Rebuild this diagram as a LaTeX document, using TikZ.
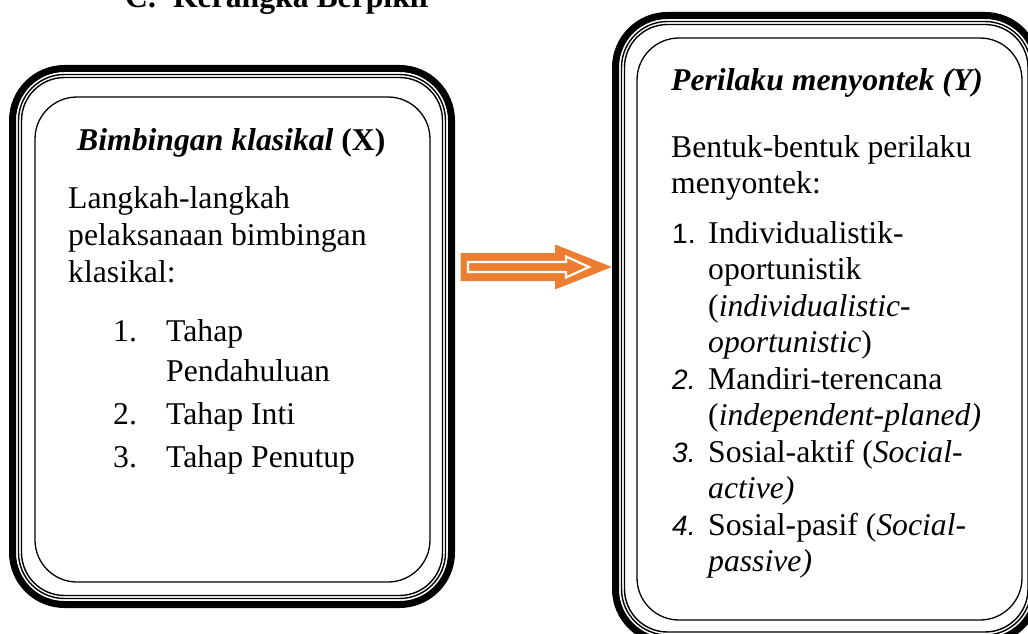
\documentclass[tikz,border=0pt]{standalone}
\usepackage{fontspec}
\setmainfont{Liberation Serif}
\newfontfamily\numfont{Liberation Sans}
\definecolor{arrorange}{HTML}{ED7D31}
\newcommand\triframe[4]{%
  \draw[thickframe] (#1,#2) rectangle (#3,#4);
  \draw[thinframe, rounded corners=46pt] ({#1+6},{#2+6}) rectangle ({#3-6},{#4-6});
  \draw[thinframe, rounded corners=43pt] ({#1+9},{#2+9}) rectangle ({#3-9},{#4-9});
}
\begin{document}
\begin{tikzpicture}[x=1pt,y=-1pt,
  thickframe/.style={line width=7pt, rounded corners=52pt},
  thinframe/.style={line width=1.4pt},
  innerbox/.style={line width=1.3pt, rounded corners=42pt},
  txt/.style={anchor=base west, inner sep=0pt, font=\fontsize{31.7}{36.5}\selectfont},
  num/.style={anchor=base west, inner sep=0pt, font=\fontsize{28}{36.5}\selectfont\numfont},
]
\useasboundingbox (0,0) rectangle (1028,634);

% title (cut at top, as in the reference)
\node[txt] (title) at (125,8) {\textbf{C.\hspace{17pt}Kerangka Berpikir}};

% left box
\triframe{12.5}{68.5}{451.5}{604.5}
\draw[innerbox] (35,97) rectangle (430,582);

\node[txt] (xhead) at (77,150) {\textbf{\textit{Bimbingan klasikal} (X)}};
\node[txt] (l1) at (68,208) {Langkah-langkah};
\node[txt] (l2) at (68,245) {pelaksanaan bimbingan};
\node[txt] (l3) at (68,282) {klasikal:};
\node[txt] (n1) at (113,341) {1.};
\node[txt] (i1a) at (166,341) {Tahap};
\node[txt] (i1b) at (166,381) {Pendahuluan};
\node[txt] (n2) at (113,424) {2.};
\node[txt] (i2) at (166,424) {Tahap Inti};
\node[txt] (n3) at (113,467) {3.};
\node[txt] (i3) at (166,467) {Tahap Penutup};

% arrow
\fill[arrorange] (460.5,253) -- (555,253) -- (555,244.5) -- (612,267) -- (555,289.5) -- (555,281) -- (460.5,281) -- cycle;
\draw[white, line width=2.2pt, line join=miter] (468,262) -- (566,262) -- (566,256.5) -- (589,267) -- (566,277.5) -- (566,272) -- (468,272) -- cycle;

% right box
\triframe{615.5}{15.5}{1037}{641}
\draw[innerbox] (637,38) rectangle (1022,620);

\node[txt] (yhead) at (671,91) {\textbf{\textit{Perilaku menyontek (Y)}}};
\node[txt] (r1) at (671,157) {Bentuk-bentuk perilaku};
\node[txt] (r2) at (671,193) {menyontek:};
\node[num] (m1) at (672,243) {1.};
\node[txt] (a1) at (708,243) {Individualistik-};
\node[txt] (a2) at (708,279.5) {oportunistik};
\node[txt] (a3) at (708,316) {(\textit{individualistic-}};
\node[txt] (a4) at (708,352.5) {\textit{oportunistic})};
\node[num] (m2) at (672,389) {\textit{2.}};
\node[txt] (b1) at (708,389) {Mandiri-terencana};
\node[txt] (b2) at (708,425.5) {(\textit{independent-planed)}};
\node[num] (m3) at (672,462) {\textit{3.}};
\node[txt] (c1) at (708,462) {Sosial-aktif (\textit{Social-}};
\node[txt] (c2) at (708,498.5) {\textit{active)}};
\node[num] (m4) at (672,535) {\textit{4.}};
\node[txt] (d1) at (708,535) {Sosial-pasif (\textit{Social-}};
\node[txt] (d2) at (708,571.5) {\textit{passive)}};
\end{tikzpicture}
\end{document}
